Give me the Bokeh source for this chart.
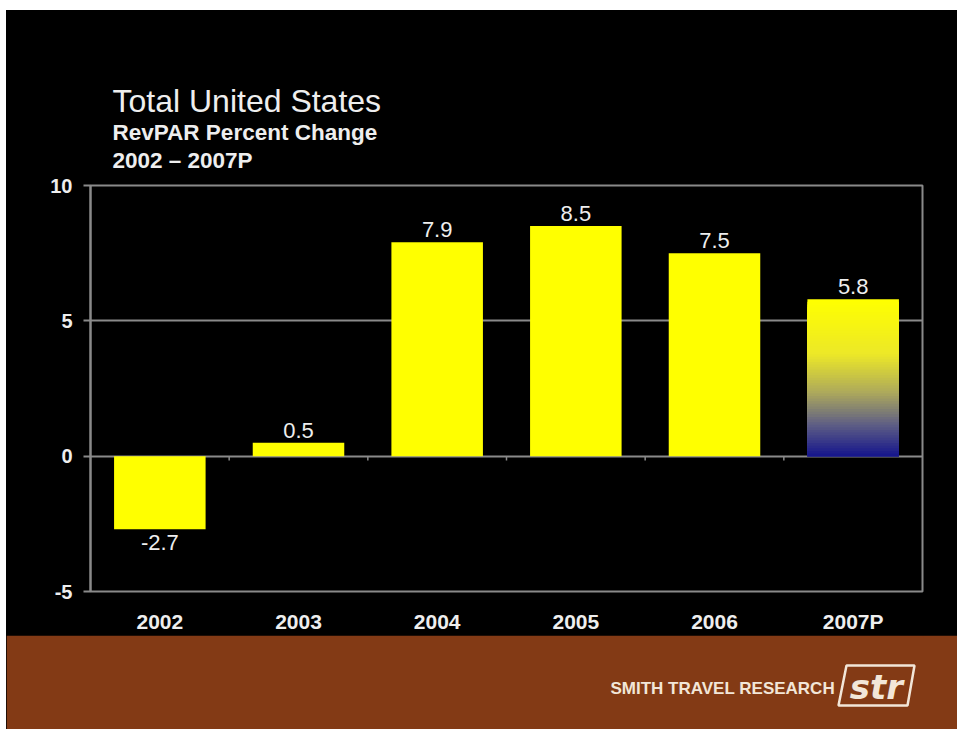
import numpy as np
from bokeh.plotting import figure
from bokeh.models import Range1d, FactorRange, FixedTicker, ColumnDataSource
from bokeh.transform import dodge
from bokeh.layouts import column
from bokeh.core.properties import value
from bokeh.embed import file_html
from bokeh.resources import INLINE

# ---------------- data ----------------
years = ["2002", "2003", "2004", "2005", "2006", "2007P"]
revpar_change = [-2.7, 0.5, 7.9, 8.5, 7.5, 5.8]
value_labels = ["-2.7", "0.5", "7.9", "8.5", "7.5", "5.8"]
y_ticks = [-5, 0, 5, 10]
y_tick_labels = {-5: "-5", 0: "0", 5: "5", 10: "10"}
projected_year = "2007P"
title_lines = ["Total United States", "RevPAR Percent Change", "2002 \u2013 2007P"]
brand_text = "SMITH TRAVEL RESEARCH"
logo_text = "str"

# ---------------- style ----------------
FONT = "Liberation Sans"
GRID = "#8a8a8a"
TXT = "#eeeeee"
YELLOW = "#ffff00"
BROWN = "#833a15"
CREAM = "#f2e6d8"
BAR_W = 0.66
W = 951          # figure width (6px white margin on the left)
LB, RB = 84, 35  # left / right borders -> frame spans page x 90..922
grad_stops = [(0.0, (255, 255, 0)), (0.35, (236, 232, 40)), (0.6, (172, 168, 92)),
              (0.8, (96, 96, 132)), (1.0, (24, 24, 140))]


def grad_color(t):
    for (t0, c0), (t1, c1) in zip(grad_stops[:-1], grad_stops[1:]):
        if t <= t1:
            f = (t - t0) / (t1 - t0)
            c = [int(round(a + (b - a) * f)) for a, b in zip(c0, c1)]
            return "#%02x%02x%02x" % tuple(c)
    return "#%02x%02x%02x" % grad_stops[-1][1]


def plain(fig):
    fig.grid.visible = False
    return fig


# ---------------- header (titles) ----------------
h = plain(figure(width=W, height=162, x_range=Range1d(90, 922), y_range=Range1d(172, 10),
                 output_backend="svg", toolbar_location=None,
                 min_border_left=LB, min_border_right=RB, min_border_top=0, min_border_bottom=0,
                 x_axis_location=None, y_axis_location=None,
                 background_fill_color="black", border_fill_color="black",
                 outline_line_color="black", outline_line_width=3))
for txt, yb, size, style in [(title_lines[0], 100, "32px", "normal"),
                             (title_lines[1], 132, "22.5px", "bold"),
                             (title_lines[2], 160, "22.5px", "bold")]:
    h.text(x=[112], y=[yb], text=[txt], text_align="left", text_baseline="alphabetic",
           text_font=value(FONT), text_font_size=size, text_font_style=style,
           text_color=TXT)

# ---------------- chart ----------------
p = figure(x_range=FactorRange(*years), y_range=Range1d(-5, 10),
           width=W, height=463, output_backend="svg", toolbar_location=None,
           min_border_left=LB, min_border_right=RB, min_border_top=13, min_border_bottom=41,
           background_fill_color="black", border_fill_color="black",
           outline_line_color=GRID, outline_line_width=2)

solid = ColumnDataSource(dict(
    x=[y for y in years if y != projected_year],
    top=[v for y, v in zip(years, revpar_change) if y != projected_year]))
p.vbar(x="x", top="top", bottom=0, width=BAR_W, source=solid,
       fill_color=YELLOW, line_color=None)

# projected bar: vertical gradient made of overlapping bars, each from 0 up
pv = revpar_change[years.index(projected_year)]
n = 60
tops = np.linspace(pv, 0, n + 1)[:-1]
strips = ColumnDataSource(dict(
    x=[projected_year] * n, top=list(tops),
    color=[grad_color(i / (n - 1)) for i in range(n)]))
p.vbar(x="x", top="top", bottom=0, width=BAR_W, source=strips,
       fill_color="color", line_color=None)

# category boundary ticks on the zero line
bounds = ColumnDataSource(dict(x=years[:-1]))
p.segment(x0=dodge("x", 0.5, range=p.x_range), y0=0,
          x1=dodge("x", 0.5, range=p.x_range), y1=-0.16,
          source=bounds, line_color=GRID, line_width=1.5)

# value labels
pos = ColumnDataSource(dict(x=[y for y, v in zip(years, revpar_change) if v >= 0],
                            y=[v for v in revpar_change if v >= 0],
                            t=[l for l, v in zip(value_labels, revpar_change) if v >= 0]))
neg = ColumnDataSource(dict(x=[y for y, v in zip(years, revpar_change) if v < 0],
                            y=[v for v in revpar_change if v < 0],
                            t=[l for l, v in zip(value_labels, revpar_change) if v < 0]))
p.text(x="x", y="y", text="t", source=pos, text_align="center", text_baseline="bottom",
       y_offset=-5, text_font=value(FONT), text_font_size="22px", text_color=TXT)
p.text(x="x", y="y", text="t", source=neg, text_align="center", text_baseline="top",
       y_offset=6, text_font=value(FONT), text_font_size="22px", text_color=TXT)

p.yaxis.ticker = FixedTicker(ticks=y_ticks)
p.yaxis.major_label_overrides = y_tick_labels
p.yaxis.axis_line_color = GRID
p.yaxis.axis_line_width = 2
p.yaxis.major_tick_line_color = GRID
p.yaxis.major_tick_line_width = 2
p.yaxis.major_tick_out = 7
p.yaxis.major_tick_in = 0
p.yaxis.minor_tick_line_color = None
p.yaxis.major_label_standoff = 11
p.yaxis.major_label_text_font = FONT
p.yaxis.major_label_text_font_size = "20px"
p.yaxis.major_label_text_font_style = "bold"
p.yaxis.major_label_text_color = TXT

p.xaxis.axis_line_color = None
p.xaxis.major_tick_line_color = None
p.xaxis.minor_tick_line_color = None
p.xaxis.major_label_standoff = 12
p.xaxis.major_label_text_font = FONT
p.xaxis.major_label_text_font_size = "21px"
p.xaxis.major_label_text_font_style = "bold"
p.xaxis.major_label_text_color = TXT

p.xgrid.grid_line_color = None
p.ygrid.ticker = FixedTicker(ticks=y_ticks)
p.ygrid.grid_line_color = GRID
p.ygrid.grid_line_width = 2

# ---------------- footer band ----------------
f = plain(figure(width=W, height=94, x_range=Range1d(90, 922), y_range=Range1d(729, 637),
                 output_backend="svg", toolbar_location=None,
                 min_border_left=LB, min_border_right=RB, min_border_top=2, min_border_bottom=0,
                 x_axis_location=None, y_axis_location=None,
                 background_fill_color=BROWN, border_fill_color=BROWN,
                 outline_line_color=BROWN, outline_line_width=3))
f.text(x=[610], y=[688], text=[brand_text], text_align="left", text_baseline="middle",
       text_font=value(FONT), text_font_size="17px", text_font_style="bold",
       text_color=CREAM)
f.patch(x=[838, 907, 914, 846], y=[705, 705, 665, 665], fill_color=None,
        line_color=CREAM, line_width=2.5)
f.text(x=[876], y=[686], text=[logo_text], text_align="center", text_baseline="middle",
       text_font=value("DejaVu Sans"), text_font_size="34px", text_font_style="bold italic",
       text_color=CREAM)

layout = column(h, p, f, spacing=0, margin=(10, 0, 0, 6),
                styles={"background-color": "black"})
open("out.html", "w").write(file_html(layout, INLINE))
